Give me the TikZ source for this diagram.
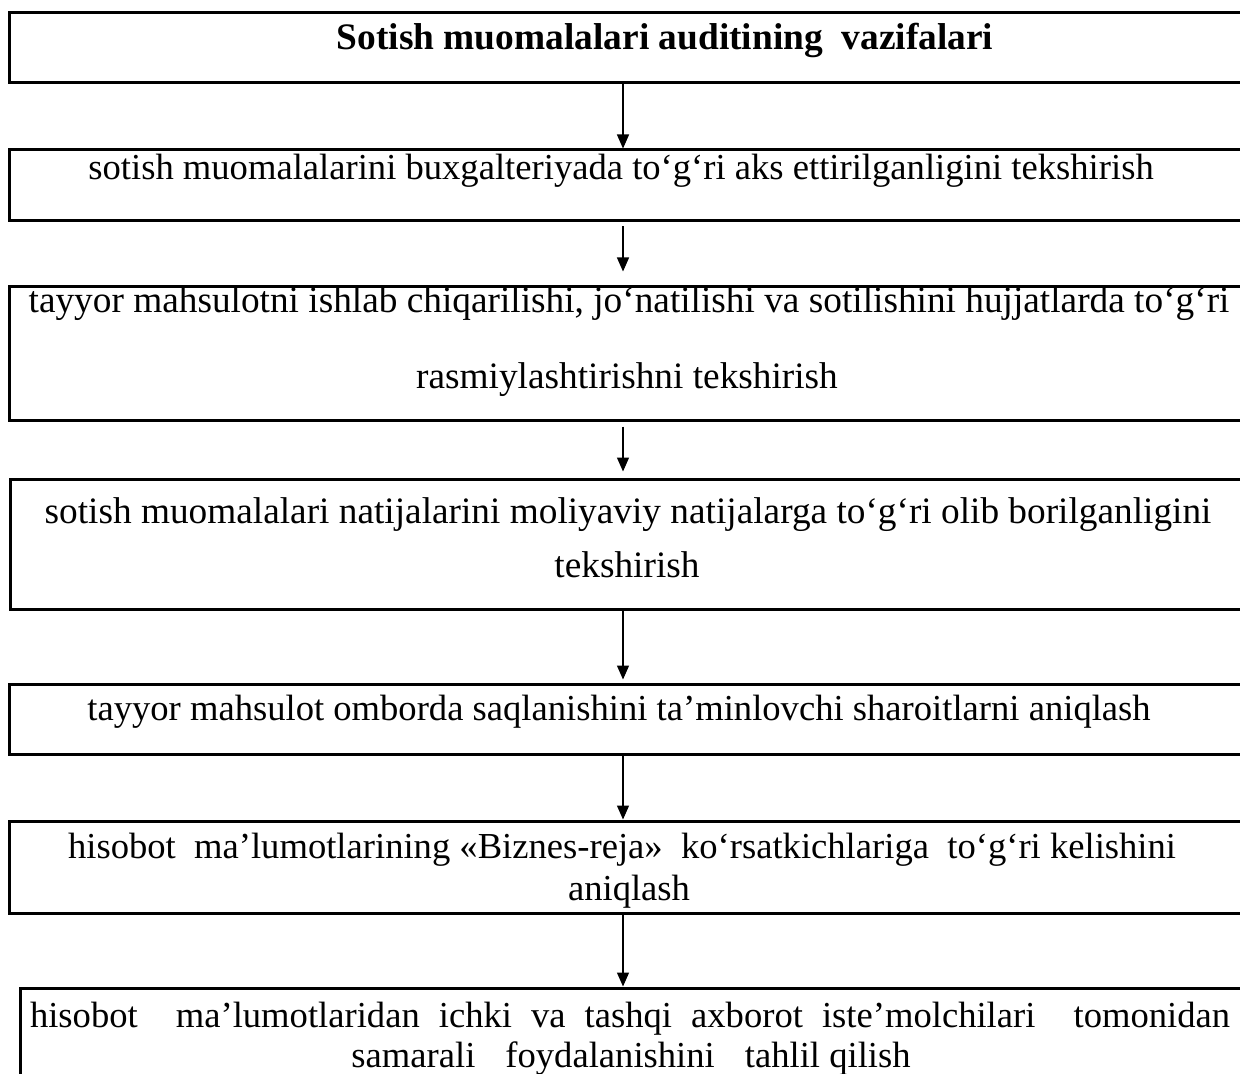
\documentclass[tikz,border=0pt]{standalone}
\usepackage{fontspec}
\setmainfont{Liberation Serif}
\usetikzlibrary{fit,arrows.meta}
\begin{document}
\begin{tikzpicture}[x=0.5pt,y=-0.5pt,
  box/.style={draw, line width=1.5pt, inner sep=0pt, rectangle},
  txt/.style={anchor=base, inner sep=0pt, font=\fontsize{18.3}{22}\selectfont},
  txtl/.style={anchor=base, inner sep=0pt, font=\fontsize{18.65}{22}\selectfont},
  ttl/.style={anchor=base, inner sep=0pt, font=\fontsize{18.7}{22}\selectfont\bfseries},
  arr/.style={-{Triangle[length=7pt,width=6pt]}, line width=0.65pt}]
\useasboundingbox (0,0) rectangle (1240,1074);
\fill[white] (0,0) rectangle (1240,1074);
% boxes
\node[box, fit={(9,13) (1250,83)}] (b1) {};
\node[box, fit={(9,150) (1250,221)}] (b2) {};
\node[box, fit={(9,287) (1250,421)}] (b3) {};
\node[box, fit={(10,479) (1250,609)}] (b4) {};
\node[box, fit={(9,684) (1250,754)}] (b5) {};
\node[box, fit={(9,821) (1250,913)}] (b6) {};
\node[box, fit={(20,988) (1250,1100)}] (b7) {};
% texts
\node[ttl] (t1) at (665,50) {Sotish muomalalari auditining\ \ vazifalari};
\node[txt] (t2) at (621,180) {sotish muomalalarini buxgalteriyada to‘g‘ri aks ettirilganligini tekshirish};
\node[txtl] (t3a) at (629,313) {tayyor mahsulotni ishlab chiqarilishi, jo‘natilishi va sotilishini hujjatlarda to‘g‘ri};
\node[txtl] (t3b) at (627,389) {rasmiylashtirishni tekshirish};
\node[txtl] (t4a) at (628,523) {sotish muomalalari natijalarini moliyaviy natijalarga to‘g‘ri olib borilganligini};
\node[txtl] (t4b) at (627,577) {tekshirish};
\node[txt] (t5) at (619,720) {tayyor mahsulot omborda saqlanishini ta’minlovchi sharoitlarni aniqlash};
\node[txt] (t6a) at (622,858) {hisobot\ \ ma’lumotlarining «Biznes-reja»\ \ ko‘rsatkichlariga\ \ to‘g‘ri kelishini};
\node[txt] (t6b) at (629,900) {aniqlash};
\node[txt] (t7a) at (630,1027) {\makebox[600pt][s]{hisobot\ \ ma’lumotlaridan ichki va tashqi axborot iste’molchilari\ \ tomonidan}};
\node[txt] (t7b) at (631,1067) {samarali\hspace{15pt}foydalanishini\hspace{15pt}tahlil qilish};
% arrows
\coordinate (ax) at (623,0);
\draw[arr] (ax |- b1.south) -- (ax |- b2.north);
\draw[arr, shorten <=2pt, shorten >=7pt] (ax |- b2.south) -- (ax |- b3.north);
\draw[arr, shorten <=2pt, shorten >=3pt] (ax |- b3.south) -- (ax |- b4.north);
\draw[arr, shorten >=1.5pt] (ax |- b4.south) -- (ax |- b5.north);
\draw[arr] (ax |- b5.south) -- (ax |- b6.north);
\draw[arr] (ax |- b6.south) -- (ax |- b7.north);
\end{tikzpicture}
\end{document}
